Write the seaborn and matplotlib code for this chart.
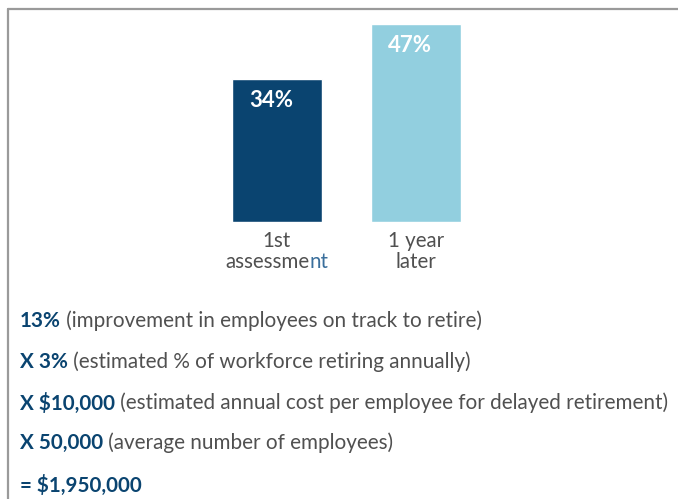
import matplotlib
matplotlib.use("Agg")
import matplotlib.pyplot as plt
import seaborn as sns
import pandas as pd
from matplotlib.lines import Line2D

# data
categories = ["1st assessment", "1 year later"]
values = [34, 47]
bar_colors = ["#0a4470", "#92cfdf"]
bold_parts = ["13%", "X 3%", "X $10,000", "X 50,000", "= $1,950,000"]
plain_parts = [
    " (improvement in employees on track to retire)",
    " (estimated % of workforce retiring annually)",
    " (estimated annual cost per employee for delayed retirement)",
    " (average number of employees)",
    "",
]

sns.set_theme(style="white")
plt.rcParams['font.family'] = ['Lato', 'DejaVu Sans']

W, H = 678, 499
fig = plt.figure(figsize=(W / 100, H / 100), dpi=100)

# bar axes: centres at x=277 and 416 px, baseline at y=222 px
px_per_unit = 139
px_per_pct = 4.22
left = 277 - 0.5 * px_per_unit
ax = fig.add_axes([left / W, (H - 222) / H, 2 * px_per_unit / W, 50 * px_per_pct / H])

df = pd.DataFrame({"cat": categories, "val": values})
sns.barplot(data=df, x="cat", y="val", hue="cat", palette=bar_colors,
            width=90 / 139, legend=False, ax=ax, saturation=1)
ax.set_xlim(-0.5, 1.5)
ax.set_ylim(0, 50)
ax.axis("off")

for i, v in enumerate(values):
    ax.annotate(f"{v}%", xy=(i, v), xytext=(-4, -16), textcoords="offset points",
                ha="center", va="center", color="white", fontsize=16,
                fontweight="bold")

# category labels (the "nt" is tinted blue in the original)
gray = "#505050"
lab_fs = 14.8
ax.annotate("1st", xy=(0, 0), xytext=(0, -13.5), textcoords="offset points",
            ha="center", va="center", color=gray, fontsize=lab_fs)
ax.annotate("1 year", xy=(1, 0), xytext=(0, -13.5), textcoords="offset points",
            ha="center", va="center", color=gray, fontsize=lab_fs)
ax.annotate("later", xy=(1, 0), xytext=(0, -28.5), textcoords="offset points",
            ha="center", va="center", color=gray, fontsize=lab_fs)

renderer = fig.canvas.get_renderer()
t1 = ax.annotate("assessme", xy=(0, 0), xytext=(0, -28.5), textcoords="offset points",
                 ha="left", va="center", color=gray, fontsize=lab_fs)
t2 = ax.annotate("nt", xy=(1, 0.5), xycoords=t1, ha="left", va="center",
                 color="#3a6f9c", fontsize=lab_fs)
w1 = t1.get_window_extent(renderer).width
w2 = t2.get_window_extent(renderer).width
t1.set_position((-(w1 + w2) / 2 * 72 / fig.dpi, -28.5))

# equation lines below the chart
eq_fs = 14.85
line_y = [321, 362, 403, 443, 485]
for bold, plain, y in zip(bold_parts, plain_parts, line_y):
    tb = fig.text(20 / W, 1 - y / H, bold, ha="left", va="center",
                  color="#0a4470", fontsize=eq_fs, fontweight="bold")
    if plain:
        plt.annotate(plain, xy=(1, 0.5), xycoords=tb, ha="left", va="center",
                     color=gray, fontsize=eq_fs, annotation_clip=False)

# frame along top and left edges
border = "#9a9a9a"
fig.add_artist(Line2D([7.5 / W, 1], [1 - 8.5 / H, 1 - 8.5 / H], color=border, lw=1.6,
                      transform=fig.transFigure))
fig.add_artist(Line2D([7.5 / W, 7.5 / W], [0, 1 - 8.5 / H], color=border, lw=1.6,
                      transform=fig.transFigure))

fig.savefig("out.png", dpi=100)
